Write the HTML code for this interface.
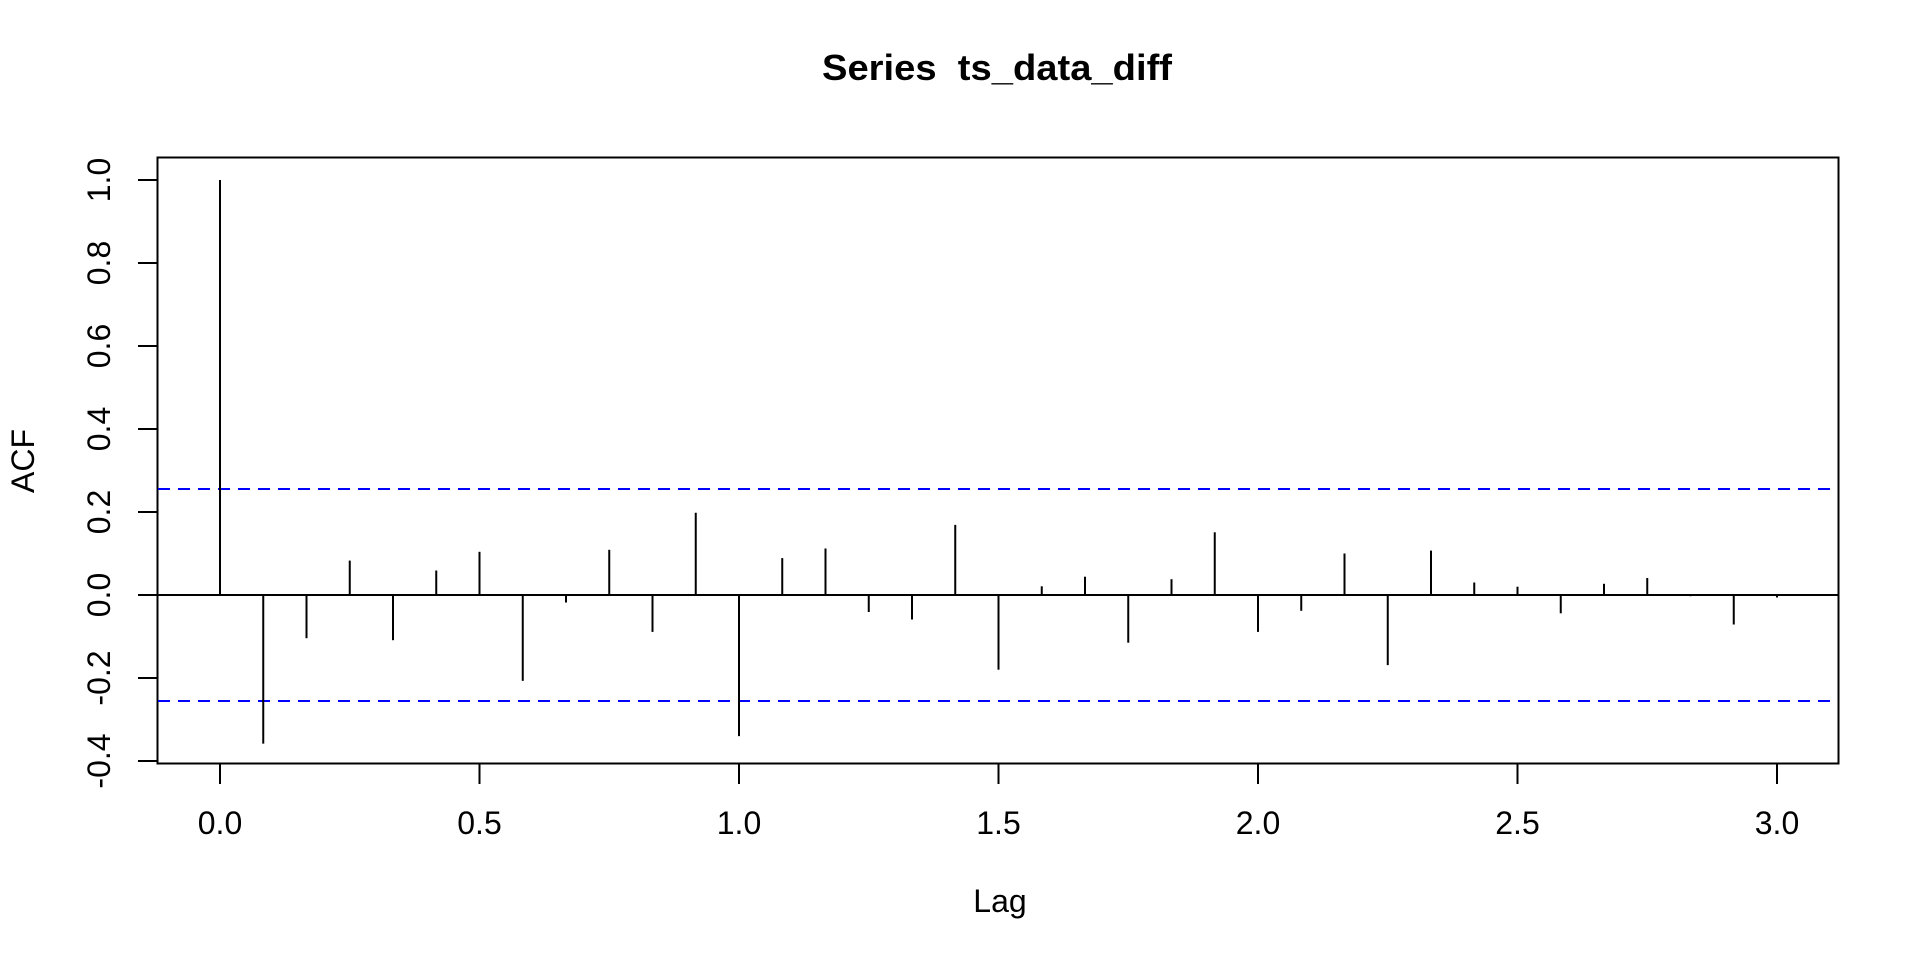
<!DOCTYPE html>
<html><head><meta charset="utf-8"><style>html,body{margin:0;padding:0;background:#fff}svg{display:block}</style></head>
<body>
<svg width="1920" height="960" viewBox="0 0 1920 960" xmlns="http://www.w3.org/2000/svg" font-family="Liberation Sans, Arial, sans-serif">
<rect width="1920" height="960" fill="#fff"/>
<text x="997" y="80" text-anchor="middle" font-weight="bold" font-size="36" textLength="350" lengthAdjust="spacingAndGlyphs">Series&#160;&#160;ts_data_diff</text>
<rect x="157.5" y="157.5" width="1681" height="606" fill="none" stroke="#000" stroke-width="2"/>
<g stroke="#000" stroke-width="2">
<line x1="138" y1="180" x2="157" y2="180"/><line x1="138" y1="263" x2="157" y2="263"/><line x1="138" y1="346" x2="157" y2="346"/><line x1="138" y1="429" x2="157" y2="429"/><line x1="138" y1="512" x2="157" y2="512"/><line x1="138" y1="595" x2="157" y2="595"/><line x1="138" y1="678" x2="157" y2="678"/><line x1="138" y1="761" x2="157" y2="761"/>
<line x1="220" y1="764" x2="220" y2="784"/><line x1="479.5" y1="764" x2="479.5" y2="784"/><line x1="739" y1="764" x2="739" y2="784"/><line x1="998.5" y1="764" x2="998.5" y2="784"/><line x1="1258" y1="764" x2="1258" y2="784"/><line x1="1517.5" y1="764" x2="1517.5" y2="784"/><line x1="1777" y1="764" x2="1777" y2="784"/>
</g>
<g font-size="32" text-anchor="middle">
<text x="220" y="834">0.0</text><text x="479.5" y="834">0.5</text><text x="739" y="834">1.0</text><text x="998.5" y="834">1.5</text><text x="1258" y="834">2.0</text><text x="1517.5" y="834">2.5</text><text x="1777" y="834">3.0</text>
<text transform="translate(110,180) rotate(-90)">1.0</text>
<text transform="translate(110,263) rotate(-90)">0.8</text>
<text transform="translate(110,346) rotate(-90)">0.6</text>
<text transform="translate(110,429) rotate(-90)">0.4</text>
<text transform="translate(110,512) rotate(-90)">0.2</text>
<text transform="translate(110,595) rotate(-90)">0.0</text>
<text transform="translate(110,678) rotate(-90)">-0.2</text>
<text transform="translate(110,761) rotate(-90)">-0.4</text>
<text x="1000" y="912">Lag</text>
<text transform="translate(34,461) rotate(-90)">ACF</text>
</g>
<line x1="158" y1="595" x2="1838" y2="595" stroke="#000" stroke-width="2"/>
<g stroke="#00f" stroke-width="2" stroke-dasharray="12,8">
<line x1="158" y1="489" x2="1838" y2="489"/>
<line x1="158" y1="701" x2="1838" y2="701"/>
</g>
<g stroke="#000" stroke-width="2">
<line x1="220" y1="595" x2="220" y2="180"/>
<line x1="263.25" y1="595" x2="263.25" y2="743.6"/>
<line x1="306.5" y1="595" x2="306.5" y2="638.2"/>
<line x1="349.75" y1="595" x2="349.75" y2="560.6"/>
<line x1="393" y1="595" x2="393" y2="640.2"/>
<line x1="436.25" y1="595" x2="436.25" y2="570.5"/>
<line x1="479.5" y1="595" x2="479.5" y2="551.8"/>
<line x1="522.75" y1="595" x2="522.75" y2="680.9"/>
<line x1="566" y1="595" x2="566" y2="602.5"/>
<line x1="609.25" y1="595" x2="609.25" y2="549.8"/>
<line x1="652.5" y1="595" x2="652.5" y2="631.9"/>
<line x1="695.75" y1="595" x2="695.75" y2="512.8"/>
<line x1="739" y1="595" x2="739" y2="736.1"/>
<line x1="782.25" y1="595" x2="782.25" y2="558.1"/>
<line x1="825.5" y1="595" x2="825.5" y2="548.5"/>
<line x1="868.75" y1="595" x2="868.75" y2="612"/>
<line x1="912" y1="595" x2="912" y2="619.5"/>
<line x1="955.25" y1="595" x2="955.25" y2="524.9"/>
<line x1="998.5" y1="595" x2="998.5" y2="669.7"/>
<line x1="1041.75" y1="595" x2="1041.75" y2="586.3"/>
<line x1="1085" y1="595" x2="1085" y2="576.7"/>
<line x1="1128.25" y1="595" x2="1128.25" y2="642.7"/>
<line x1="1171.5" y1="595" x2="1171.5" y2="579.2"/>
<line x1="1214.75" y1="595" x2="1214.75" y2="532.3"/>
<line x1="1258" y1="595" x2="1258" y2="631.9"/>
<line x1="1301.25" y1="595" x2="1301.25" y2="610.8"/>
<line x1="1344.5" y1="595" x2="1344.5" y2="553.5"/>
<line x1="1387.75" y1="595" x2="1387.75" y2="665.1"/>
<line x1="1431" y1="595" x2="1431" y2="550.6"/>
<line x1="1474.25" y1="595" x2="1474.25" y2="582.5"/>
<line x1="1517.5" y1="595" x2="1517.5" y2="586.7"/>
<line x1="1560.75" y1="595" x2="1560.75" y2="613.3"/>
<line x1="1604" y1="595" x2="1604" y2="583.8"/>
<line x1="1647.25" y1="595" x2="1647.25" y2="578"/>
<line x1="1690.5" y1="595" x2="1690.5" y2="596.2"/>
<line x1="1733.75" y1="595" x2="1733.75" y2="624.5"/>
<line x1="1777" y1="595" x2="1777" y2="597.5"/>
</g>
</svg>
</body></html>
